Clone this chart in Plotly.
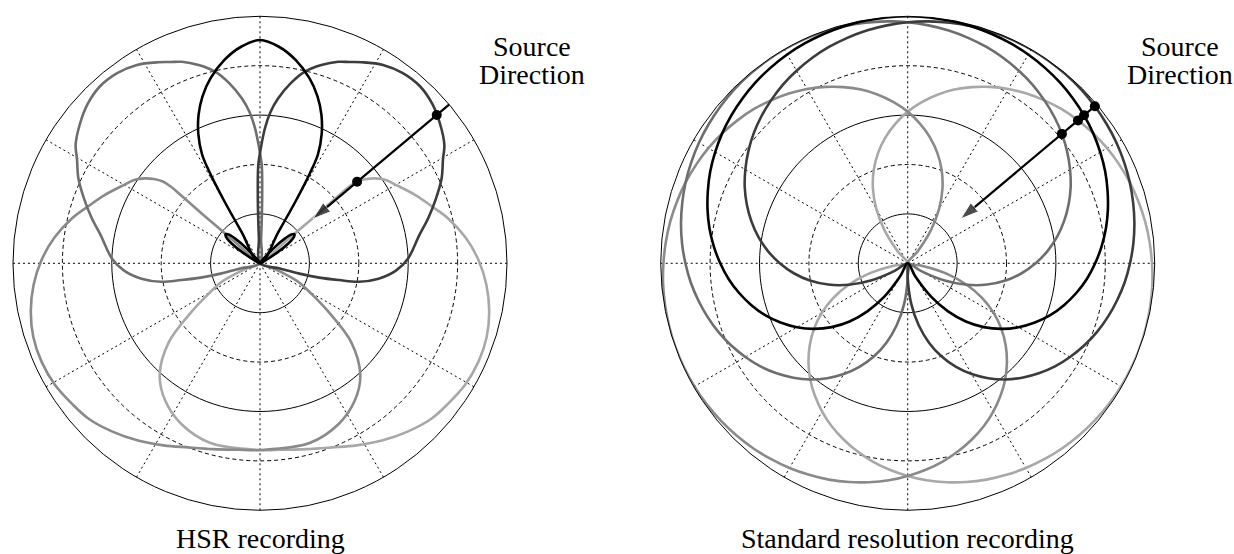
import plotly.graph_objects as go

# loudspeaker directions, degrees counterclockwise from the right (front = up)
SPEAKERS = ["C", "R", "L", "Ls", "Rs"]
SPK_AZ = [90, 60, 120, 200, 340]
SPK_COLORS = ["#000000", "#3c3c3c", "#6e6e6e", "#8a8a8a", "#a8a8a8"]

# standard resolution: one pattern, off-axis angle -> radius (0..1 = -25..0 dB)
STD_OFFAXIS = [0, 5, 10, 15, 20, 25, 30, 35, 40, 45, 50, 55, 60, 65, 70, 75, 80,
               85, 90, 95, 100, 105, 110, 115, 120, 125, 130, 135, 140, 145, 150, 152.6]
STD_RADIUS = [1.0, 0.999, 0.997, 0.994, 0.989, 0.983, 0.976, 0.967, 0.957, 0.945,
              0.932, 0.917, 0.900, 0.882, 0.861, 0.839, 0.815, 0.788, 0.759, 0.728,
              0.693, 0.655, 0.614, 0.568, 0.518, 0.463, 0.402, 0.333, 0.254, 0.165,
              0.061, 0.0]

# HSR beams (L mirrors R, Rs mirrors Ls)
HSR_C_THETA = [29, 32, 35, 38, 40, 42, 45, 48, 51, None,
               59.3, 59.6, 60.2, 61.0, 62.0, 64.5, 67.5, 71, 75, 80, 85, 90,
               95, 100, 105, 109, 112.5, 115.5, 118, 119, 119.8, 120.4, 120.7, None,
               129, 132, 135, 138, 140, 142, 145, 148, 151]
HSR_C_R = [0, 0.08, 0.14, 0.175, 0.182, 0.175, 0.14, 0.08, 0, None,
           0, 0.15, 0.3, 0.42, 0.5, 0.58, 0.65, 0.715, 0.775, 0.835, 0.88, 0.904,
           0.88, 0.835, 0.775, 0.715, 0.65, 0.58, 0.5, 0.42, 0.3, 0.15, 0, None,
           0, 0.08, 0.14, 0.175, 0.182, 0.175, 0.14, 0.08, 0]

HSR_R_THETA = [-14.7, -14.7, -14.7, -13.6, -12.0, -10.6, -7.4, -3.1, 1.9, 10, 15, 20,
               25.1, 29.6, 32.7, 37.6, 42.7, 47.9, 53.1, 58.2, 63.2, 66, 68.8,
               72.8, 76.8, 80.3, 83.7, 86, 87.9, 89.5, 91, 91.7, 92.2, 92.5, 92.6]
HSR_R_R = [0, 0.083, 0.165, 0.247, 0.327, 0.407, 0.484, 0.551, 0.600, 0.655, 0.705,
           0.757, 0.812, 0.852, 0.887, 0.921, 0.950, 0.966, 0.963, 0.945, 0.912,
           0.892, 0.875, 0.84, 0.797, 0.74, 0.672, 0.615, 0.547, 0.47, 0.398,
           0.3, 0.2, 0.1, 0]

HSR_LS_THETA = [139.5, 139.5, 139.5, 139.3, 139.3, 139.9, 141.6, 143.6, 146.5, 150,
                156.2, 162, 166.6, 172.8, 179.2, 185.5, 191.8, 198.0, 204.3, 210.7,
                216.8, 222.1, 228.6, 235.5, 242.1, 248.7, 255.8, 263.4, 270,
                285.4, 296.2, 304.7, 312, 319.1, 324.7, 329.2, 334.2, 337.1, 339.4, 340]
HSR_LS_R = [0, 0.15, 0.3, 0.422, 0.475, 0.514, 0.549, 0.579, 0.611, 0.635, 0.686,
            0.736, 0.783, 0.838, 0.885, 0.921, 0.948, 0.965, 0.970, 0.965, 0.950,
            0.937, 0.907, 0.871, 0.834, 0.800, 0.776, 0.760, 0.756, 0.755, 0.724,
            0.675, 0.607, 0.489, 0.339, 0.244, 0.172, 0.098, 0.043, 0]

SOURCE_AZ = 40
ARROW_R = [1.1, 0.28]
HSR_DOTS = [0.934, 0.513]
STD_DOTS = [0.989, 0.932, 0.900, 0.815]

TITLES = ["HSR recording", "Standard resolution recording"]
SOURCE_LABEL = ["Source", "Direction"]


def mirror(thetas):
    return [None if t is None else 180 - t for t in thetas]


def std_beam(az):
    psi = [-p for p in reversed(STD_OFFAXIS)] + STD_OFFAXIS[1:]
    r = list(reversed(STD_RADIUS)) + STD_RADIUS[1:]
    return [az + p for p in psi], r


hsr_beams = {
    "C": (HSR_C_THETA, HSR_C_R),
    "R": (HSR_R_THETA, HSR_R_R),
    "L": (mirror(HSR_R_THETA), HSR_R_R),
    "Ls": (HSR_LS_THETA, HSR_LS_R),
    "Rs": (mirror(HSR_LS_THETA), HSR_LS_R),
}

fig = go.Figure()
ring_theta = list(range(0, 363, 3))
draw_order = [4, 3, 2, 1, 0]

for sub, dots in (("polar", HSR_DOTS), ("polar2", STD_DOTS)):
    # solid rings at 0.2 and 0.6 (dashed ones come from the axis grid)
    for rr in (0.2, 0.6):
        fig.add_trace(go.Scatterpolar(r=[rr] * len(ring_theta), theta=ring_theta,
                                      mode="lines", line=dict(color="black", width=1),
                                      subplot=sub, hoverinfo="skip"))
    for i in draw_order:
        name = SPEAKERS[i]
        if sub == "polar":
            th, r = hsr_beams[name]
        else:
            th, r = std_beam(SPK_AZ[i])
        fig.add_trace(go.Scatterpolar(r=r, theta=th, mode="lines", name=name,
                                      line=dict(color=SPK_COLORS[i], width=2.6,
                                                shape="spline", smoothing=1),
                                      connectgaps=False, subplot=sub))
    fig.add_trace(go.Scatterpolar(
        r=ARROW_R, theta=[SOURCE_AZ] * 2, mode="lines+markers", subplot=sub,
        line=dict(color="black", width=2.2), cliponaxis=False,
        marker=dict(symbol="arrow", size=[0, 19], color="black", angleref="previous")))
    fig.add_trace(go.Scatterpolar(r=dots, theta=[SOURCE_AZ] * len(dots), mode="markers",
                                  marker=dict(color="black", size=10), subplot=sub))

grid_radial = dict(range=[0, 1], tickvals=[0.4, 0.8], showticklabels=False, ticks="",
                   showline=False, gridcolor="black", griddash="4px,3px", gridwidth=1)
grid_angular = dict(tickvals=list(range(0, 360, 30)), showticklabels=False, ticks="",
                    showline=True, linecolor="black", linewidth=1, gridcolor="black",
                    griddash="2px,3px", gridwidth=0.9, rotation=0,
                    direction="counterclockwise")

fig.update_layout(
    width=1234, height=554, showlegend=False,
    margin=dict(l=0, r=0, t=0, b=0),
    paper_bgcolor="white", plot_bgcolor="white",
    polar=dict(domain=dict(x=[0.01053, 0.41086], y=[0.0789, 0.9706]), bgcolor="white",
               radialaxis=grid_radial, angularaxis=grid_angular),
    polar2=dict(domain=dict(x=[0.53542, 0.93574], y=[0.0789, 0.9706]), bgcolor="white",
                radialaxis=grid_radial, angularaxis=grid_angular),
    font=dict(family="Liberation Serif", size=28, color="black"),
)

label_font = dict(family="Liberation Serif", size=28, color="black")
for cx, title in zip((260 / 1234, 907.7 / 1234), TITLES):
    fig.add_annotation(x=cx, y=0.028, xref="paper", yref="paper", text=title,
                       showarrow=False, xanchor="center", yanchor="middle", font=label_font)
for cx in (531.5 / 1234, 1179.5 / 1234):
    for yy, word in zip((0.9152, 0.8664), SOURCE_LABEL):
        fig.add_annotation(x=cx, y=yy, xref="paper", yref="paper", text=word,
                           showarrow=False, xanchor="center", yanchor="middle",
                           font=label_font)

# the page's default 8px body margin would push the figure off the window
fig.write_html("out.html", config={"displayModeBar": False},
               post_script="document.body.style.margin='0';document.body.style.overflow='hidden';")
